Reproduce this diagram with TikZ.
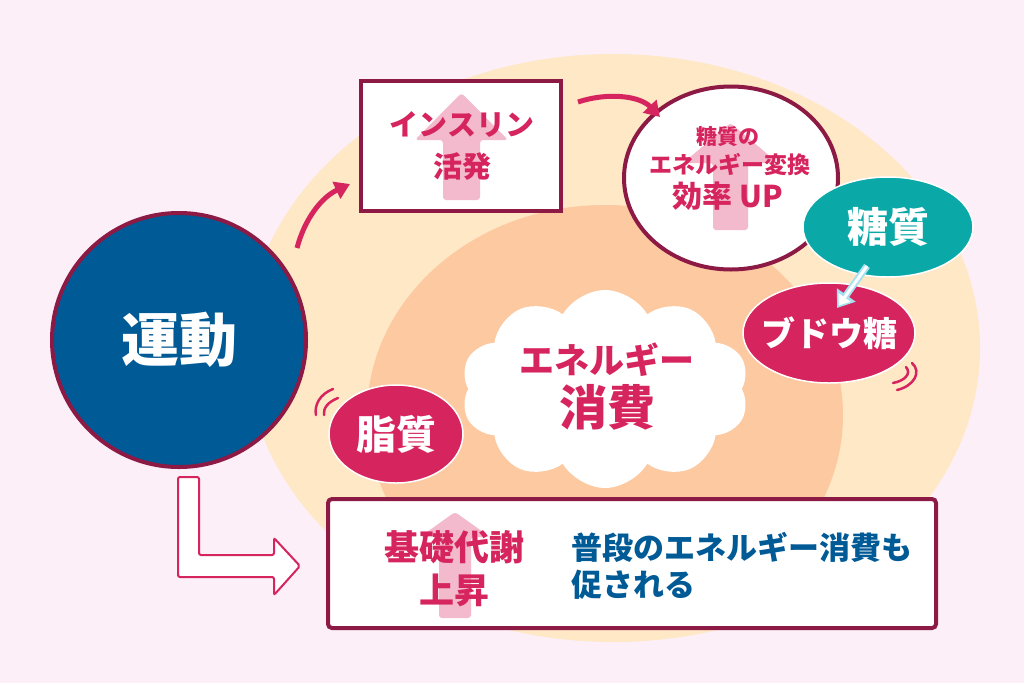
\documentclass[tikz,border=0pt]{standalone}
\usepackage{fontspec}
\setmainfont{Noto Sans CJK JP}
\usetikzlibrary{arrows.meta,shapes.geometric,shapes.symbols}
\definecolor{bgpink}{HTML}{FDEFF8}
\definecolor{peach}{HTML}{FEE8C5}
\definecolor{orangec}{HTML}{FDC9A0}
\definecolor{maroon}{HTML}{8C1A45}
\definecolor{crimson}{HTML}{D6245E}
\definecolor{blueu}{HTML}{005A96}
\definecolor{tealc}{HTML}{0AA9A7}
\definecolor{apink}{HTML}{F3B9CC}
\definecolor{lblue}{HTML}{A6E1F2}
\tikzset{
  fs/.style={font=\bfseries\fontsize{#1}{#1}\selectfont},
  framebox/.style={draw=maroon, line width=4, fill=white},
  blob/.style={ellipse, draw=white, line width=1.5, inner sep=0},
  wtext/.style={text=white, inner sep=0},
  curv/.style={crimson, line width=5, -{Triangle[length=15,width=18]}},
  vib/.style={crimson, line width=2.5, line cap=round},
  uparrow/.style={fill=apink, rounded corners=3},
}
\begin{document}
\begin{tikzpicture}[x=1pt,y=-1pt]
\useasboundingbox (0,0) rectangle (1024,683);
\fill[bgpink] (0,0) rectangle (1024,683);
\fill[peach] (613,348) ellipse [x radius=367, y radius=294];
\fill[orangec] (605,415) ellipse [x radius=238, y radius=210];

% cloud
\node[cloud, cloud puffs=10, cloud puff arc=120, aspect=1.45, fill=white, minimum width=288, minimum height=198, inner sep=0] (cloud) at (605,389) {};
\node[text=crimson, fs=35] (cl1) at (607,360) {エネルギー};
\node[text=crimson, fs=48] (cl2) at (607,407) {消費};

% exercise circle
\node[circle, fill=blueu, draw=maroon, line width=4, minimum size=254, inner sep=0] (undo) at (179,340) {};
\node[wtext, fs=58] (undot) at (undo) {運動};

% insulin box
\node[framebox, minimum width=200, minimum height=130] (ins) at (461,146) {};
\fill[uparrow] (443,200) -- (443,140) -- (415,140) -- (461.5,93) -- (508,140) -- (480,140) -- (480,200) -- cycle;
\node[text=crimson, fs=29, align=center] (instxt) at (462,146) {インスリン\\[13pt]活発};

% efficiency circle
\node[ellipse, framebox, minimum width=214, minimum height=183] (eff) at (731,178) {};
\fill[uparrow] (713,230) -- (713,163) -- (683,163) -- (730.5,123) -- (778,163) -- (748,163) -- (748,230) -- cycle;
\node[text=crimson, fs=21] (eff1) at (728,137) {糖質の};
\node[text=crimson, fs=23] (eff2) at (730,165) {エネルギー変換};
\node[text=crimson, fs=30] (eff3) at (728,196) {効率 UP};

% sugar / glucose
\node[blob, fill=tealc, minimum width=170, minimum height=100] (tou) at (888,227) {};
\node[wtext, fs=41] (tout) at (tou) {糖質};
\node[blob, fill=crimson, minimum width=172, minimum height=100] (bud) at (829,333) {};
\node[wtext, fs=34] (budt) at (bud) {ブドウ糖};
\coordinate (g1) at (867,266);
\coordinate (g2) at (837,308);
\draw[lblue, line width=7, -{Triangle[length=16,width=22]}] (g1) -- (g2);
\draw[white, line width=3, shorten >=3, -{Triangle[length=10,width=14]}] (g1) -- (g2);

% fat
\node[blob, fill=crimson, minimum width=134, minimum height=98] (shi) at (396,434) {};
\node[wtext, fs=40] (shit) at (shi) {脂質};

% vibration marks
\draw[vib] (333,389) .. controls (320,394) and (314,405) .. (316,415);
\draw[vib] (338,398) .. controls (328,402) and (323,408) .. (324,415);
\draw[vib] (912,363) .. controls (922,372) and (914,386) .. (897,390);
\draw[vib] (906,367) .. controls (912,374) and (904,381) .. (893,383);

% curved arrows
\coordinate (a1s) at (297,248);
\coordinate (a1e) at (350,184);
\draw[curv] (a1s) .. controls (305,218) and (322,197) .. (a1e);
\coordinate (a2s) at (578,102);
\coordinate (a2e) at (660,117);
\draw[curv] (a2s) .. controls (608,92) and (640,96) .. (a2e);

% L-shaped arrow
\draw[crimson, line width=2, fill=white, rounded corners=2] (178,477) -- (199,477) -- (199,555) -- (274,555) -- (274,538) -- (300,566) -- (274,595) -- (274,577) -- (178,577) -- cycle;

% base metabolism box
\node[framebox, rounded corners=4, minimum width=608, minimum height=129] (base) at (632,563.5) {};
\fill[uparrow] (439,618) -- (439,537) -- (420,537) -- (455,512) -- (490,537) -- (471,537) -- (471,618) -- cycle;
\node[text=crimson, fs=35] (bm1) at (454,547) {基礎代謝};
\node[text=crimson, fs=35] (bm2) at (454,590) {上昇};
\node[text=blueu, fs=31, align=left, anchor=west] (bmt) at (568,566) {普段のエネルギー消費も\\[6pt]促される};
\end{tikzpicture}
\end{document}
